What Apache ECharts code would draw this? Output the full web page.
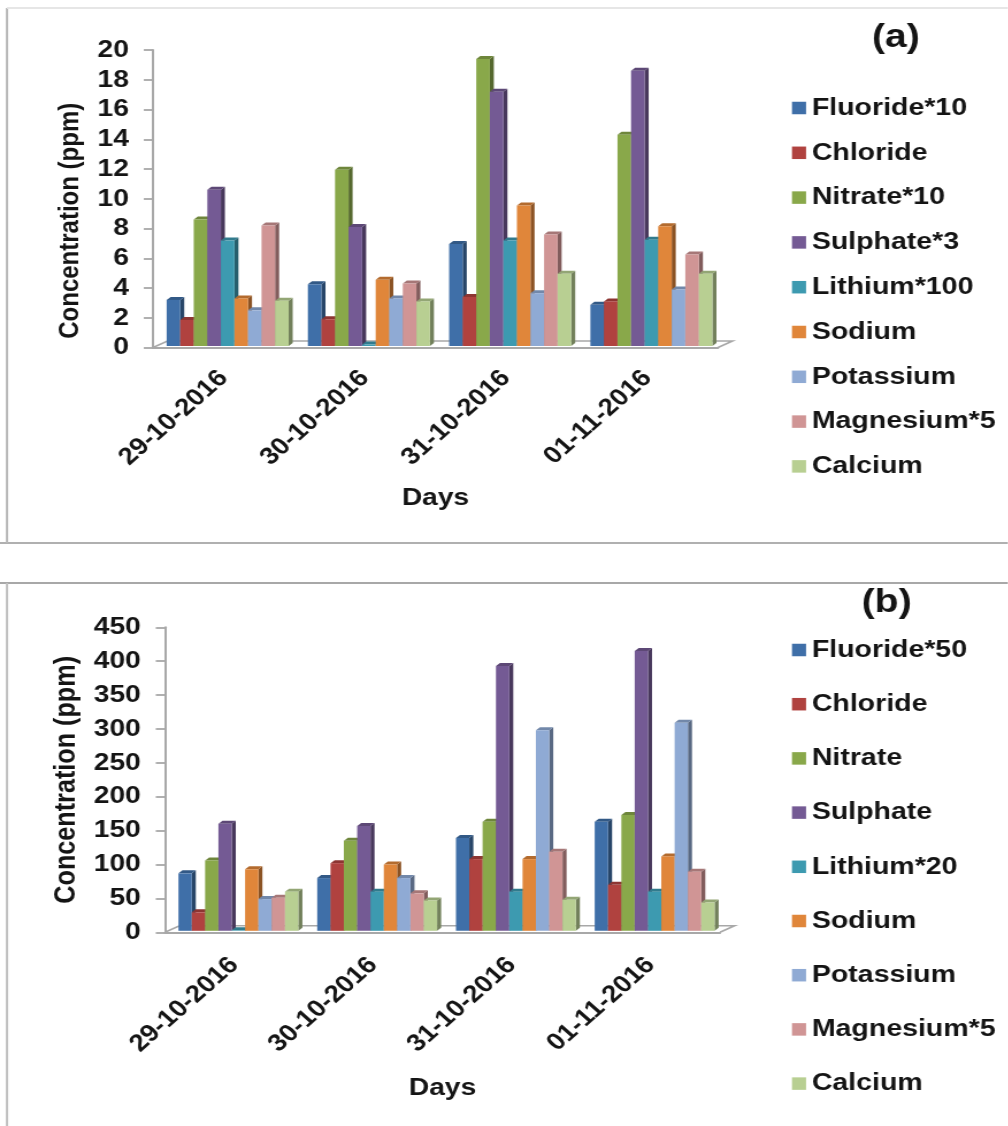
<!DOCTYPE html>
<html>
<head>
<meta charset="utf-8">
<style>
html,body{margin:0;padding:0;background:#fff;overflow:hidden}
#chart{width:876.5px;height:1126px;transform:scaleX(1.15);transform-origin:0 0;filter:blur(0.6px)}
</style>
<script src="https://cdn.jsdelivr.net/npm/echarts@6/dist/echarts.min.js"></script>
</head>
<body>
<div id="chart"></div>
<script>
const days = ['29-10-2016','30-10-2016','31-10-2016','01-11-2016'];
const colors = ['#3F6FA8','#B0423F','#89A84A','#745A94','#3D9AB0','#E0863A','#8FAAD4','#D09595','#B8CF92'];

const namesA = ['Fluoride*10','Chloride','Nitrate*10','Sulphate*3','Lithium*100','Sodium','Potassium','Magnesium*5','Calcium'];
const fluorideA = [3.2,4.25,6.95,2.87];
const chlorideA = [1.85,1.9,3.4,3.1];
const nitrateA = [8.6,11.95,19.4,14.3];
const sulphateA = [10.6,8.1,17.2,18.6];
const lithiumA = [7.2,0.2,7.2,7.25];
const sodiumA = [3.3,4.55,9.55,8.15];
const potassiumA = [2.5,3.3,3.65,3.9];
const magnesiumA = [8.2,4.3,7.6,6.25];
const calciumA = [3.15,3.1,4.95,4.95];

const namesB = ['Fluoride*50','Chloride','Nitrate','Sulphate','Lithium*20','Sodium','Potassium','Magnesium*5','Calcium'];
const fluorideB = [87,80,139,163];
const chlorideB = [29.5,102,108,70];
const nitrateB = [106,135,163,173];
const sulphateB = [160,157,393,415];
const lithiumB = [3,60,60,60];
const sodiumB = [93,100,108,112];
const potassiumB = [49,80,298,309];
const magnesiumB = [51,57.5,119,89.5];
const calciumB = [60,47,48,44];

const valuesA = [fluorideA,chlorideA,nitrateA,sulphateA,lithiumA,sodiumA,potassiumA,magnesiumA,calciumA];
const valuesB = [fluorideB,chlorideB,nitrateB,sulphateB,lithiumB,sodiumB,potassiumB,magnesiumB,calciumB];

const S = 1.15, FONT = '"Liberation Sans", Arial, sans-serif', TXT = '#141414', AXIS = '#a8a8a8';

function shade(hex, f){
  const n = parseInt(hex.slice(1),16);
  const c = [n>>16,(n>>8)&255,n&255].map(v=>Math.round(v*f));
  return 'rgb('+c.join(',')+')';
}

function barSeries(names, values, idx){
  return names.map((name,s)=>({
    type:'custom', name, xAxisIndex:idx, yAxisIndex:idx, coordinateSystem:'cartesian2d',
    itemStyle:{color:colors[s]}, clip:false, silent:true, z:3,
    encode:{x:0,y:1},
    data:values[s].map((v,i)=>[i,v]),
    renderItem(params,api){
      const top = api.coord([api.value(0),api.value(1)]);
      const base = api.coord([api.value(0),0]);
      const band = api.size([1,0])[0];
      const w = band*0.096, dx = 3.5, dy = 3;
      const x = top[0] + 3.5 + (s-4.5)*w, y = top[1], b = base[1]-1.5;
      const c = colors[s];
      return {type:'group',children:[
        {type:'polygon',shape:{points:[[x+w,y],[x+w+dx,y-dy],[x+w+dx,b-dy],[x+w,b]]},style:{fill:shade(c,0.62)}},
        {type:'polygon',shape:{points:[[x,y],[x+dx,y-dy],[x+w+dx,y-dy],[x+w,y]]},style:{fill:shade(c,0.8)}},
        {type:'rect',shape:{x:x,y:y,width:w,height:b-y},style:{fill:c}}
      ]};
    }
  }));
}

function floorSeries(idx){
  return {
    type:'custom', xAxisIndex:idx, yAxisIndex:idx, coordinateSystem:'cartesian2d', silent:true, clip:false, z:1,
    data:[[0,0]], encode:{x:0,y:1},
    renderItem(params){
      const g = params.coordSys, yb = g.y+g.height, yt = yb-6.5, d = 12.6;
      return {type:'polyline',shape:{points:[[g.x,yb],[g.x+d,yt],[g.x+g.width+d,yt],[g.x+g.width,yb]]},
        style:{fill:null,stroke:AXIS,lineWidth:1.6}};
    }
  };
}

const line = (x1,y1,x2,y2,stroke) => ({type:'line',silent:true,z:0,shape:{x1,y1,x2,y2},style:{stroke,lineWidth:2}});

function legend(names, top, gap){
  return {orient:'vertical',left:792/S,top,padding:0,itemGap:gap,itemWidth:12.2,itemHeight:12.5,icon:'rect',selectedMode:false,
    data:names.map(name=>({name,icon:'rect'})),
    textStyle:{fontFamily:FONT,fontWeight:'bold',fontSize:24.8,color:TXT,lineHeight:26}};
}

function xAxis(grid, margin, gap){
  return {type:'category',gridIndex:grid,data:days,boundaryGap:true,name:'Days',nameLocation:'middle',nameGap:gap,
    nameTextStyle:{fontFamily:FONT,fontWeight:'bold',fontSize:24.5,color:TXT},
    axisLine:{lineStyle:{color:AXIS,width:2}},axisTick:{length:5.5,lineStyle:{color:AXIS,width:1.8}},
    axisLabel:{rotate:45,margin,interval:0,fontFamily:FONT,fontWeight:'bold',fontSize:24,color:TXT}};
}
function yAxis(grid, max, interval, gap, padding, size){
  return {type:'value',gridIndex:grid,min:0,max,interval,name:'Concentration (ppm)',nameLocation:'middle',nameGap:gap,
    nameTextStyle:{fontFamily:FONT,fontWeight:'bold',fontSize:size,color:TXT,padding},
    axisLine:{show:true,lineStyle:{color:AXIS,width:2}},axisTick:{show:true,length:8,lineStyle:{color:AXIS,width:1.8}},
    splitLine:{show:false},
    axisLabel:{margin:21,fontFamily:FONT,fontWeight:'bold',fontSize:24.5,color:TXT}};
}

const chart = echarts.init(document.getElementById('chart'),null,{renderer:'canvas'});
chart.setOption({
  animation:false,
  backgroundColor:'#fff',
  title:[
    {text:'(a)',left:774,top:16,textAlign:'center',textStyle:{fontFamily:FONT,fontWeight:'bold',fontSize:34,color:TXT}},
    {text:'(b)',left:766,top:581,textAlign:'center',textStyle:{fontFamily:FONT,fontWeight:'bold',fontSize:34,color:TXT}}
  ],
  grid:[
    {left:153/S,top:50,width:565/S,height:297.5},
    {left:165/S,top:627.3,width:555/S,height:305}
  ],
  xAxis:[xAxis(0,27,138),xAxis(1,29,143)],
  yAxis:[yAxis(0,20,2,60,[0,44,0,0],24),yAxis(1,450,50,66,[0,0,0,0],25.2)],
  legend:[legend(namesA,95,18.8),legend(namesB,637,28.2)],
  graphic:[
    line(0,543,1008/S,543,'#b0b0b0'),
    line(7/S,8,7/S,543,'#b8b8b8'),
    line(7/S,8,1008/S,8,'#e6e6e6'),
    line(0,583,1008/S,583,'#a8a8a8'),
    line(7/S,583,7/S,1126,'#c0c0c0')
  ],
  series:[floorSeries(0),floorSeries(1),...barSeries(namesA,valuesA,0),...barSeries(namesB,valuesB,1)]
});
</script>
</body>
</html>
